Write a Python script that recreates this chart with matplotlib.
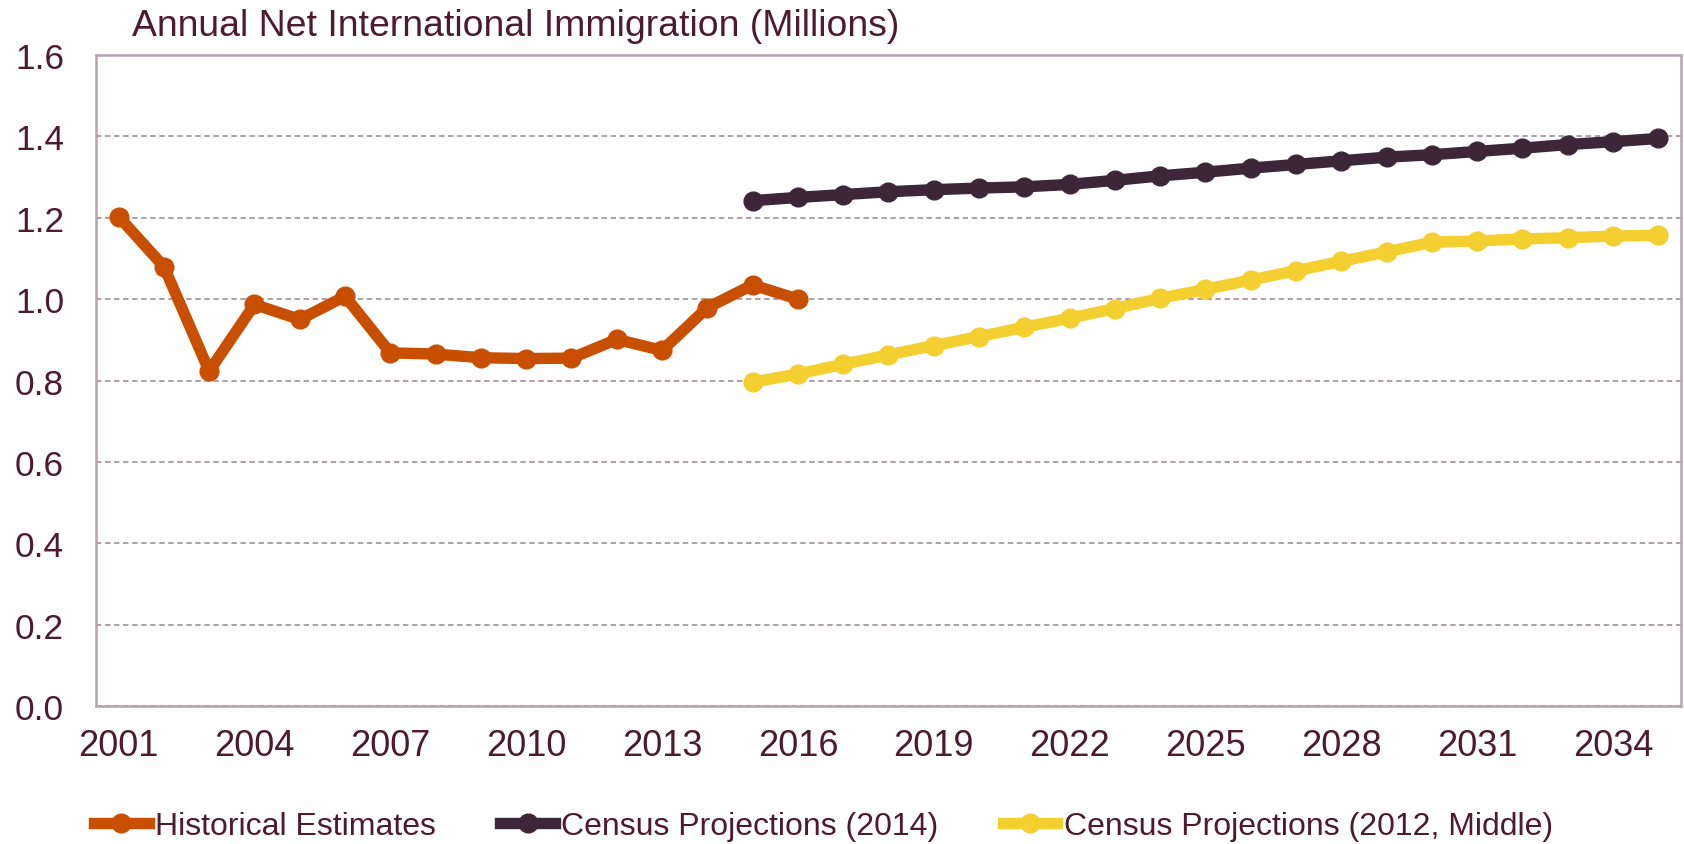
import matplotlib
matplotlib.use("Agg")
import matplotlib.pyplot as plt
import numpy as np

plt.rcParams['font.family'] = ['Liberation Sans', 'DejaVu Sans']

# values (millions)
hist_years = list(range(2001, 2017))
hist_vals = [1.203, 1.080, 0.823, 0.987, 0.950, 1.007, 0.868, 0.865,
             0.856, 0.854, 0.855, 0.901, 0.874, 0.979, 1.035, 1.000]

proj_years = list(range(2015, 2036))
proj2014 = [1.242, 1.250, 1.257, 1.264, 1.269, 1.273, 1.276, 1.282, 1.292, 1.303, 1.312,
            1.322, 1.331, 1.340, 1.349, 1.355, 1.363, 1.371, 1.380, 1.387, 1.395]
proj2012 = [0.796, 0.816, 0.840, 0.863, 0.886, 0.908, 0.931, 0.953, 0.977, 1.002, 1.024,
            1.047, 1.070, 1.093, 1.116, 1.140, 1.143, 1.148, 1.151, 1.155, 1.157]

xticks = list(range(2001, 2035, 3))
yticks = [0.0, 0.2, 0.4, 0.6, 0.8, 1.0, 1.2, 1.4, 1.6]

txt_col = '#4d1a30'
grid_col = '#a8979f'
spine_col = '#b7a4af'

fig = plt.figure(figsize=(16.84, 8.45), dpi=100)
ax = fig.add_axes([0.0570, 0.1633, 0.9412, 0.7704])

lw = 8.2
ms = 13.5
ax.plot(hist_years, hist_vals, color='#c94f00', lw=lw, marker='o', ms=ms,
        label='Historical Estimates', zorder=4)
ax.plot(proj_years, proj2014, color='#3c2638', lw=lw, marker='o', ms=ms,
        label='Census Projections (2014)', zorder=3)
ax.plot(proj_years, proj2012, color='#f4cf30', lw=lw, marker='o', ms=ms,
        label='Census Projections (2012, Middle)', zorder=3)

ax.set_xlim(2000.5, 2035.5)
ax.set_ylim(0, 1.6)
ax.set_xticks(xticks)
ax.set_yticks(yticks)
ax.set_yticklabels(['%.1f' % v for v in yticks])

ax.tick_params(axis='x', length=0, pad=16, labelsize=26, labelcolor=txt_col)
ax.tick_params(axis='y', length=0, pad=23, labelsize=25.4, labelcolor=txt_col)

ax.yaxis.grid(True, color=grid_col, linestyle=(0, (3, 2)), lw=1.3, zorder=0)
ax.set_axisbelow(True)
for s in ax.spines.values():
    s.set_color(spine_col)
    s.set_linewidth(1.8)

fig.text(0.0784, 0.9578, 'Annual Net International Immigration (Millions)',
         fontsize=26.9, color=txt_col, va='baseline', ha='left')

leg = fig.legend(loc='center left', bbox_to_anchor=(0.0558, 0.021), ncol=3,
                 frameon=False, fontsize=23, handlelength=1.72, handletextpad=0.2,
                 columnspacing=2.0, borderpad=0, borderaxespad=0, numpoints=1)
for t in leg.get_texts():
    t.set_color(txt_col)

fig.savefig('out.png', dpi=100)
